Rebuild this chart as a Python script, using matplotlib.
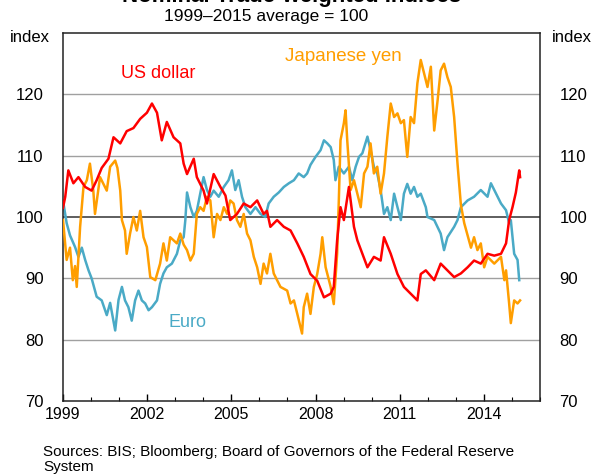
import matplotlib
matplotlib.use("Agg")
from matplotlib import pyplot as plt
from matplotlib.ticker import MultipleLocator

plt.rcParams['font.family'] = ['Liberation Sans', 'DejaVu Sans']

# US dollar (TWI)
usd_t = [1999.0, 1999.08, 1999.19, 1999.37, 1999.55, 1999.79, 2000.02, 2000.20, 2000.38, 2000.62,
         2000.80, 2001.04, 2001.27, 2001.51, 2001.75, 2001.99, 2002.17, 2002.35, 2002.52, 2002.70,
         2002.94, 2003.18, 2003.30, 2003.42, 2003.66, 2003.77, 2004.01, 2004.13, 2004.37, 2004.61,
         2004.79, 2004.96, 2005.20, 2005.44, 2005.68, 2005.92, 2006.15, 2006.27, 2006.39, 2006.63,
         2006.87, 2007.11, 2007.35, 2007.58, 2007.82, 2008.06, 2008.30, 2008.54, 2008.65, 2008.77,
         2008.89, 2009.01, 2009.19, 2009.37, 2009.49, 2009.85, 2010.08, 2010.32, 2010.44, 2010.68,
         2010.92, 2011.15, 2011.39, 2011.63, 2011.75, 2011.93, 2012.23, 2012.46, 2012.70, 2012.94,
         2013.18, 2013.42, 2013.65, 2013.89, 2014.13, 2014.37, 2014.61, 2014.79, 2014.90, 2015.02,
         2015.14, 2015.26, 2015.29]
usd_v = [101.5, 103.3, 107.6, 105.5, 106.5, 104.9, 104.3, 106, 108, 109.5,
         113, 112, 114, 114.5, 116, 117, 118.5, 117, 112.5, 115.5,
         113, 112, 108.7, 107, 109.5, 106.5, 104.3, 102.2, 107, 104.9,
         103.5, 99.5, 100.5, 102.2, 101.6, 102.7, 100.5, 101, 98.4, 99.5,
         98.4, 97.8, 95.7, 93.5, 90.7, 89.6, 86.9, 87.5, 88.6, 96.2,
         101.6, 99.5, 104.9, 98.4, 96.2, 91.8, 93.5, 92.9, 96.7, 94,
         90.7, 88.6, 87.5, 86.4, 90.7, 91.3, 89.7, 92.4, 91.3, 90.2,
         90.8, 91.8, 92.9, 92.4, 94, 93.7, 94, 95.7, 99.5, 101.6,
         104, 107.6, 106.5]

# Japanese yen
jpy_t = [1999.0, 1999.13, 1999.25, 1999.35, 1999.43, 1999.49, 1999.61, 1999.73, 1999.85, 1999.96,
         2000.08, 2000.14, 2000.32, 2000.56, 2000.68, 2000.86, 2000.94, 2001.04, 2001.10, 2001.21,
         2001.27, 2001.39, 2001.51, 2001.63, 2001.75, 2001.87, 2001.99, 2002.11, 2002.29, 2002.46,
         2002.58, 2002.70, 2002.82, 2003.06, 2003.18, 2003.30, 2003.42, 2003.54, 2003.66, 2003.77,
         2003.89, 2004.01, 2004.13, 2004.25, 2004.37, 2004.49, 2004.61, 2004.73, 2004.85, 2004.96,
         2005.08, 2005.20, 2005.32, 2005.44, 2005.56, 2005.68, 2005.80, 2005.92, 2006.04, 2006.15,
         2006.27, 2006.39, 2006.51, 2006.63, 2006.75, 2006.99, 2007.11, 2007.23, 2007.35, 2007.46,
         2007.52, 2007.58, 2007.70, 2007.82, 2007.94, 2008.06, 2008.18, 2008.24, 2008.36, 2008.54,
         2008.65, 2008.77, 2008.83, 2008.89, 2009.01, 2009.07, 2009.13, 2009.25, 2009.37, 2009.49,
         2009.61, 2009.73, 2009.85, 2009.96, 2010.08, 2010.20, 2010.32, 2010.44, 2010.56, 2010.68,
         2010.80, 2010.92, 2011.04, 2011.15, 2011.27, 2011.39, 2011.51, 2011.63, 2011.75, 2011.87,
         2011.99, 2012.11, 2012.23, 2012.35, 2012.46, 2012.58, 2012.70, 2012.82, 2012.94, 2013.06,
         2013.18, 2013.30, 2013.42, 2013.54, 2013.65, 2013.77, 2013.89, 2014.01, 2014.13, 2014.37,
         2014.61, 2014.73, 2014.79, 2014.90, 2014.96, 2015.08, 2015.20, 2015.29]
jpy_v = [99.5, 93, 95, 89.7, 92, 88.6, 98.4, 104.9, 106, 108.7,
         104.3, 100.5, 106.5, 104.3, 108.2, 109.2, 108, 104.3, 99.5, 97.8,
         94, 97.3, 100, 97.8, 101, 96.7, 95.1, 90.2, 89.7, 92.4,
         95.7, 92.9, 96.7, 95.7, 97.3, 95.5, 94.6, 92.9, 94, 100.5,
         101.6, 101, 103.3, 102.7, 96.7, 100.5, 99.5, 101.6, 100.5, 102.7,
         102.2, 99.5, 98.4, 100.5, 97.3, 96.2, 93.5, 91.8, 89.1, 92.4,
         90.8, 94, 90.8, 89.7, 88.6, 88, 85.9, 86.4, 84.2, 82.1,
         81, 85.3, 87.5, 84.2, 88.6, 90.7, 94, 96.7, 91.8, 88.6,
         85.8, 94, 102.7, 112.5, 115.3, 117.4, 112.5, 104.4, 106, 103.8,
         101.6, 107.1, 108.2, 112, 107.1, 108.2, 103.8, 107.1, 113.1, 118.5,
         116.3, 116.9, 115.3, 115.8, 109.8, 116.3, 115.3, 121.8, 125.6, 123.4,
         121.2, 124.5, 114.1, 119, 123.9, 125, 122.8, 121.2, 116.3, 108.7,
         102, 99, 97, 95, 96.7, 94.6, 95.7, 91.8, 93.5, 92.4,
         93.5, 89.7, 91.3, 85.9, 82.7, 86.4, 85.9, 86.4]

# Euro
eur_t = [1999.0, 1999.13, 1999.25, 1999.43, 1999.55, 1999.67, 1999.79, 1999.91, 2000.02, 2000.20,
         2000.38, 2000.56, 2000.68, 2000.80, 2000.86, 2000.98, 2001.10, 2001.21, 2001.33, 2001.45,
         2001.57, 2001.69, 2001.81, 2001.93, 2002.05, 2002.17, 2002.35, 2002.46, 2002.58, 2002.70,
         2002.88, 2003.06, 2003.18, 2003.30, 2003.36, 2003.42, 2003.54, 2003.66, 2003.77, 2003.89,
         2004.01, 2004.13, 2004.25, 2004.37, 2004.55, 2004.73, 2004.90, 2005.02, 2005.14, 2005.26,
         2005.38, 2005.50, 2005.68, 2005.86, 2006.04, 2006.21, 2006.33, 2006.51, 2006.69, 2006.87,
         2007.05, 2007.23, 2007.40, 2007.58, 2007.70, 2007.82, 2008.00, 2008.18, 2008.30, 2008.42,
         2008.54, 2008.65, 2008.71, 2008.83, 2009.01, 2009.19, 2009.31, 2009.43, 2009.55, 2009.67,
         2009.85, 2009.96, 2010.08, 2010.20, 2010.32, 2010.44, 2010.56, 2010.68, 2010.80, 2010.92,
         2011.04, 2011.15, 2011.27, 2011.39, 2011.51, 2011.63, 2011.75, 2011.93, 2011.99, 2012.23,
         2012.46, 2012.58, 2012.70, 2012.94, 2013.06, 2013.18, 2013.42, 2013.65, 2013.89, 2014.13,
         2014.25, 2014.37, 2014.61, 2014.79, 2014.90, 2014.96, 2015.08, 2015.20, 2015.26]
eur_v = [102.7, 99, 97, 95.1, 93.5, 95, 93, 91.3, 90, 87,
         86.4, 84, 86, 83, 81.5, 86.5, 88.6, 86.4, 85.3, 83.1,
         86.4, 88, 86.4, 85.9, 84.8, 85.3, 86.4, 89.1, 90.8, 91.8,
         92.4, 94, 96.2, 96.7, 99.5, 104, 101.6, 100, 101, 103.8,
         106.5, 104.4, 103.3, 104.3, 103.3, 104.9, 106, 107.6, 104.4, 106,
         103.3, 101.6, 100.5, 101.6, 100.5, 100, 102.2, 103.3, 104, 104.9,
         105.5, 106, 107.1, 106.5, 107.1, 108.5, 109.8, 110.9, 112.5, 112,
         111.4, 109.3, 106, 108.2, 107.1, 108.2, 106, 108.2, 109.8, 110.4,
         113.1, 110.9, 108.2, 107.1, 104.4, 100.5, 101.6, 99.5, 103.8, 101.6,
         99.5, 103.8, 105.4, 103.8, 104.9, 103.3, 103.8, 101.6, 100, 99.5,
         97.3, 94.6, 96.7, 98.4, 99.5, 101.6, 102.7, 103.3, 104.4, 103.3,
         105.5, 104.4, 102.2, 101.1, 99, 99.5, 94, 93, 89.7]

year_ticks = [1999, 2002, 2005, 2008, 2011, 2014]
c_usd = '#ff0000'
c_jpy = '#ff9e00'
c_eur = '#4aaac6'

fig = plt.figure(figsize=(5.93, 4.74), dpi=100)
ax = fig.add_axes([63/593, 1 - 401/474, 477/593, 368/474])

for v in [80, 90, 110, 120]:
    ax.axhline(v, color='#a0a0a0', lw=1, zorder=1)
ax.axhline(100, color='#333333', lw=1.1, zorder=1)

ax.plot(eur_t, eur_v, color=c_eur, lw=1.8, zorder=2)
ax.plot(jpy_t, jpy_v, color=c_jpy, lw=1.8, zorder=3)
ax.plot(usd_t, usd_v, color=c_usd, lw=1.8, zorder=4)

ax.set_xlim(1999, 2016)
ax.set_ylim(70, 130)
ax.set_xticks(year_ticks)
ax.set_xticklabels([str(y) for y in year_ticks])
ax.xaxis.set_minor_locator(MultipleLocator(1))
ax.set_yticks([70, 80, 90, 100, 110, 120])
ax.tick_params(axis='x', which='major', direction='in', length=5, width=1, labelsize=11.5, pad=4)
ax.tick_params(axis='x', which='minor', direction='in', length=3, width=0.8)
ax.tick_params(axis='y', length=0, labelsize=12, labelleft=True, labelright=True, pad=14)
for s in ax.spines.values():
    s.set_linewidth(1.1)
    s.set_color('#222222')

ax.text(2002.4, 123.4, 'US dollar', color=c_usd, fontsize=13, ha='center', va='center')
ax.text(2009.0, 126.1, 'Japanese yen', color=c_jpy, fontsize=13.5, ha='center', va='center')
ax.text(2003.45, 82.8, 'Euro', color=c_eur, fontsize=13, ha='center', va='center')

# title is cropped at the top edge in the original
fig.text(292/593, 1 - 2/474, 'Nominal Trade-weighted Indices', fontsize=16, fontweight='bold',
         ha='center', va='baseline')
fig.text(266/593, 1 - 17/474, '1999\u20132015 average = 100', fontsize=12.5, ha='center', va='center')
fig.text(50/593, 1 - 38/474, 'index', fontsize=12, ha='right', va='center')
fig.text(552/593, 1 - 38/474, 'index', fontsize=12, ha='left', va='center')
fig.text(43/593, 1 - 445/474, 'Sources: BIS; Bloomberg; Board of Governors of the Federal Reserve\nSystem',
         fontsize=11, ha='left', va='top', linespacing=1.1)

fig.savefig('out.png', dpi=100)
